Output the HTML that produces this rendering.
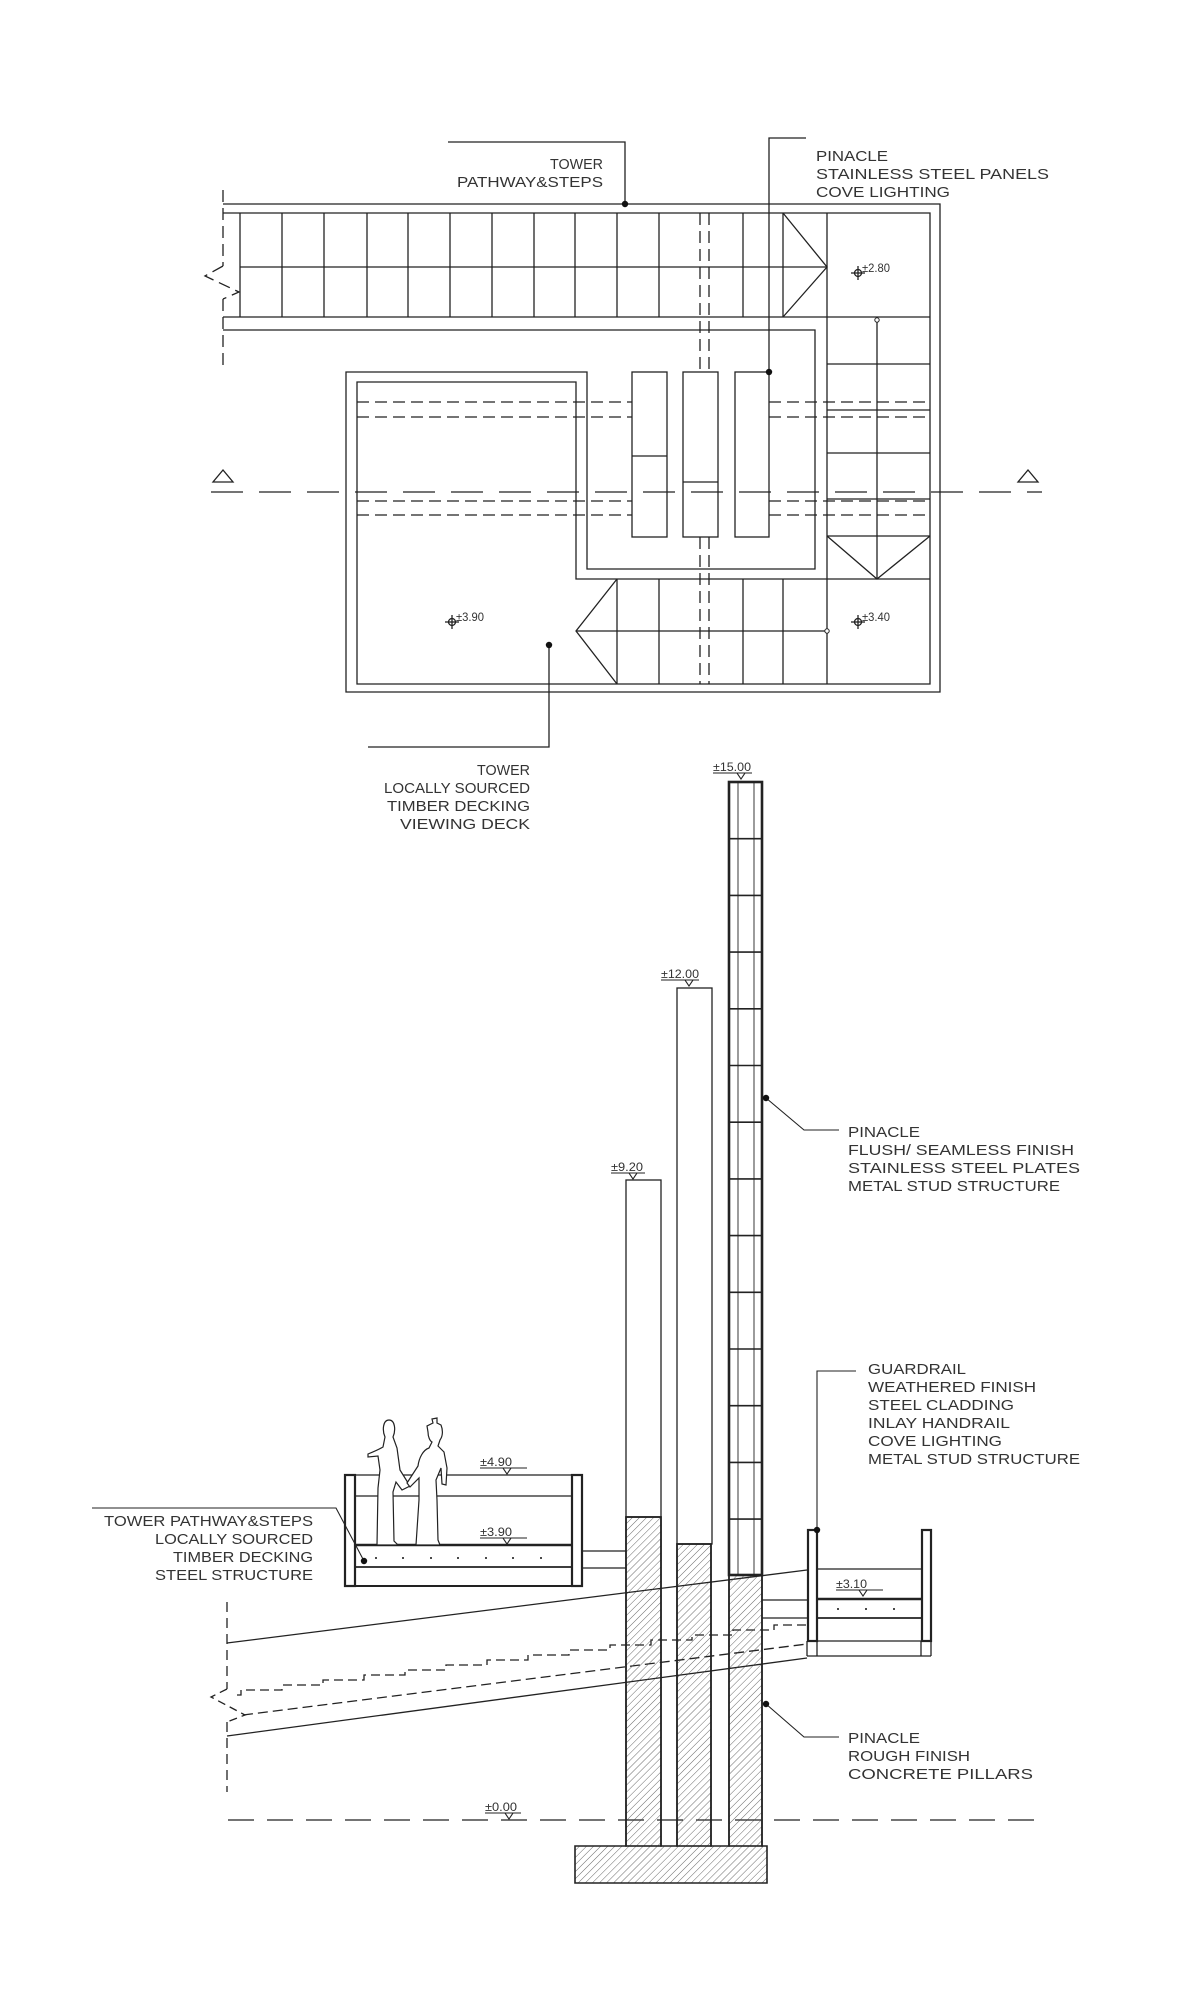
<!DOCTYPE html>
<html><head><meta charset="utf-8"><style>
html,body{margin:0;padding:0;background:#fff;}
svg{display:block;}
text{font-family:"Liberation Sans",sans-serif;fill:#333;font-size:15px;}
.s{font-size:12px;}
</style></head><body>
<svg width="1204" height="2000" viewBox="0 0 1204 2000" xmlns="http://www.w3.org/2000/svg">
<defs>
<pattern id="h" patternUnits="userSpaceOnUse" width="5" height="5" patternTransform="rotate(45)">
<line x1="0" y1="0" x2="0" y2="5" stroke="#444" stroke-width="0.8"/>
</pattern>
</defs>
<g stroke="#222" stroke-width="1.3" fill="none">
<polyline points="223,204 940,204 940,692 346,692 346,372 587,372 587,569 815,569 815,330 223,330"/>
<polyline points="223,213 930,213 930,684 357,684 357,382 576,382 576,579 930,579"/>
<line x1="223" y1="317" x2="930" y2="317"/>
<line x1="240" y1="267" x2="827" y2="267"/>
<line x1="827" y1="213" x2="827" y2="684"/>
<g>
<line x1="240" y1="213" x2="240" y2="317"/><line x1="282" y1="213" x2="282" y2="317"/>
<line x1="324" y1="213" x2="324" y2="317"/><line x1="367" y1="213" x2="367" y2="317"/>
<line x1="408" y1="213" x2="408" y2="317"/><line x1="450" y1="213" x2="450" y2="317"/>
<line x1="492" y1="213" x2="492" y2="317"/><line x1="534" y1="213" x2="534" y2="317"/>
<line x1="575" y1="213" x2="575" y2="317"/><line x1="617" y1="213" x2="617" y2="317"/>
<line x1="659" y1="213" x2="659" y2="317"/><line x1="743" y1="213" x2="743" y2="317"/>
<line x1="783" y1="213" x2="783" y2="317"/>
</g>
<polyline points="783,213 827,267 783,317"/>
<line x1="827" y1="364" x2="930" y2="364"/><line x1="827" y1="410" x2="930" y2="410"/>
<line x1="827" y1="453" x2="930" y2="453"/><line x1="827" y1="499" x2="930" y2="499"/>
<line x1="827" y1="536" x2="930" y2="536"/>
<line x1="877" y1="320" x2="877" y2="579"/>
<polyline points="827,536 877,579 930,536"/>
<line x1="617" y1="579" x2="617" y2="684"/><line x1="659" y1="579" x2="659" y2="684"/>
<line x1="743" y1="579" x2="743" y2="684"/><line x1="783" y1="579" x2="783" y2="684"/>
<polyline points="617,579 576,631 617,684"/>
<line x1="576" y1="631" x2="827" y2="631"/>
<rect x="632" y="372" width="35" height="165" fill="#fff"/>
<rect x="683" y="372" width="35" height="165" fill="#fff"/>
<rect x="735" y="372" width="34" height="165" fill="#fff"/>
<line x1="632" y1="456" x2="667" y2="456"/><line x1="683" y1="482" x2="718" y2="482"/>
<g stroke-dasharray="12,6">
<line x1="700" y1="213" x2="700" y2="372"/><line x1="709" y1="213" x2="709" y2="372"/>
<line x1="700" y1="537" x2="700" y2="684"/><line x1="709" y1="537" x2="709" y2="684"/>
<line x1="357" y1="402" x2="632" y2="402"/><line x1="769" y1="402" x2="930" y2="402"/>
<line x1="357" y1="417" x2="632" y2="417"/><line x1="769" y1="417" x2="930" y2="417"/>
<line x1="357" y1="501" x2="632" y2="501"/><line x1="769" y1="501" x2="930" y2="501"/>
<line x1="357" y1="515" x2="632" y2="515"/><line x1="769" y1="515" x2="930" y2="515"/>
<line x1="223" y1="190" x2="223" y2="266"/><line x1="223" y1="299" x2="223" y2="370"/>
<polyline points="223,266 205,276 239,292 223,299"/>
</g>
<line x1="211" y1="492" x2="1042" y2="492" stroke-dasharray="32,16"/>
<polygon points="213,482 233,482 223,470"/>
<polygon points="1018,482 1038,482 1028,470"/>
<polyline points="448,142 625,142 625,204"/>
<polyline points="806,138 769,138 769,372"/>
<polyline points="549,645 549,747 368,747"/>
<circle cx="858" cy="273" r="3.5"/><line x1="858" y1="266" x2="858" y2="280"/><line x1="851" y1="273" x2="865" y2="273"/>
<circle cx="858" cy="622" r="3.5"/><line x1="858" y1="615" x2="858" y2="629"/><line x1="851" y1="622" x2="865" y2="622"/>
<circle cx="452" cy="622" r="3.5"/><line x1="452" y1="615" x2="452" y2="629"/><line x1="445" y1="622" x2="459" y2="622"/>
</g>
<g fill="#111">
<circle cx="625" cy="204" r="3.2"/><circle cx="769" cy="372" r="3.2"/><circle cx="549" cy="645" r="3.2"/>
</g>
<g fill="#fff" stroke="#222" stroke-width="1"><circle cx="877" cy="320" r="2.2"/><circle cx="827" cy="631" r="2.2"/></g>

<text x="603" y="169" text-anchor="end" textLength="53" lengthAdjust="spacingAndGlyphs">TOWER</text>
<text x="603" y="187" text-anchor="end" textLength="146" lengthAdjust="spacingAndGlyphs">PATHWAY&amp;STEPS</text>
<text x="816" y="161" textLength="72" lengthAdjust="spacingAndGlyphs">PINACLE</text>
<text x="816" y="179" textLength="233" lengthAdjust="spacingAndGlyphs">STAINLESS STEEL PANELS</text>
<text x="816" y="197" textLength="134" lengthAdjust="spacingAndGlyphs">COVE LIGHTING</text>
<text x="530" y="775" text-anchor="end" textLength="53" lengthAdjust="spacingAndGlyphs">TOWER</text>
<text x="530" y="793" text-anchor="end" textLength="146" lengthAdjust="spacingAndGlyphs">LOCALLY SOURCED</text>
<text x="530" y="811" text-anchor="end" textLength="143" lengthAdjust="spacingAndGlyphs">TIMBER DECKING</text>
<text x="530" y="829" text-anchor="end" textLength="130" lengthAdjust="spacingAndGlyphs">VIEWING DECK</text>
<text class="s" x="862" y="272" textLength="28" lengthAdjust="spacingAndGlyphs">±2.80</text>
<text class="s" x="862" y="621" textLength="28" lengthAdjust="spacingAndGlyphs">±3.40</text>
<text class="s" x="456" y="621" textLength="28" lengthAdjust="spacingAndGlyphs">±3.90</text>

<g stroke="#222" stroke-width="1.3" fill="none">
<line x1="227" y1="1602" x2="227" y2="1689" stroke-dasharray="10,6"/>
<line x1="227" y1="1722" x2="227" y2="1792" stroke-dasharray="10,6"/>
<polyline points="227,1689 211,1697 245,1715 227,1722" stroke-dasharray="8,5"/>
<line x1="227" y1="1643" x2="807" y2="1570"/>
<line x1="227" y1="1736" x2="807" y2="1658"/>
<line x1="243" y1="1715" x2="807" y2="1644" stroke-dasharray="10,5"/>
<polyline stroke-dasharray="9,5" points="237,1695 241,1695 241,1690 282,1690 282,1685 323,1685 323,1680 364,1680 364,1675 405,1675 405,1670 446,1670 446,1665 487,1665 487,1660 528,1660 528,1655 569,1655 569,1650 610,1650 610,1645 651,1645 651,1640 692,1640 692,1635 733,1635 733,1630 774,1630 774,1625 807,1625"/>
<line x1="228" y1="1820" x2="1035" y2="1820" stroke-dasharray="26,13"/>
<line x1="355" y1="1475" x2="571" y2="1475"/>
<line x1="355" y1="1496" x2="571" y2="1496"/>
<line x1="355" y1="1545" x2="571" y2="1545" stroke-width="2.4"/>
<line x1="355" y1="1567" x2="571" y2="1567" stroke-width="1.8"/>
<line x1="344" y1="1586" x2="582" y2="1586" stroke-width="2"/>
<line x1="582" y1="1551" x2="626" y2="1551"/>
<line x1="582" y1="1568" x2="626" y2="1568"/>
<rect x="345" y="1475" width="10" height="111" stroke-width="2.2"/>
<rect x="572" y="1475" width="10" height="111" stroke-width="2.2"/>
<line x1="817" y1="1569" x2="921" y2="1569"/>
<line x1="817" y1="1599" x2="921" y2="1599" stroke-width="2.4"/>
<line x1="817" y1="1618" x2="921" y2="1618" stroke-width="1.8"/>
<line x1="807" y1="1641" x2="931" y2="1641"/>
<line x1="807" y1="1656" x2="931" y2="1656"/>
<line x1="762" y1="1600" x2="807" y2="1600"/>
<line x1="762" y1="1618" x2="807" y2="1618"/>
<line x1="807" y1="1641" x2="807" y2="1656"/><line x1="817" y1="1641" x2="817" y2="1656"/>
<line x1="921" y1="1641" x2="921" y2="1656"/><line x1="931" y1="1641" x2="931" y2="1656"/>
<rect x="808" y="1530" width="9" height="111" stroke-width="2.2"/>
<rect x="922" y="1530" width="9" height="111" stroke-width="2.2"/>
</g>
<g stroke="#222" stroke-width="1.3">
<rect x="626" y="1180" width="35" height="337" fill="#fff"/>
<rect x="677" y="988" width="35" height="556" fill="#fff"/>
<path d="M575,1846 L626,1846 L626,1517 L661,1517 L661,1846 L677,1846 L677,1544 L711,1544 L711,1846 L729,1846 L729,1575 L762,1575 L762,1846 L767,1846 L767,1883 L575,1883 Z" fill="url(#h)" stroke-width="1.6"/>
<rect x="626" y="1517" width="35" height="329" fill="none" stroke-width="1.6"/>
<rect x="677" y="1544" width="34" height="302" fill="none" stroke-width="1.6"/>
<rect x="729" y="1575" width="33" height="271" fill="none" stroke-width="1.6"/>
<rect x="729" y="782" width="33" height="793" fill="#fff" stroke-width="2.6"/>
<line x1="738" y1="782" x2="738" y2="1575" stroke-width="0.9"/>
<line x1="754" y1="782" x2="754" y2="1575" stroke-width="0.9"/>
</g>
<g stroke="#222" stroke-width="1.6">
<line x1="729" y1="838.7" x2="762" y2="838.7"/><line x1="729" y1="895.4" x2="762" y2="895.4"/>
<line x1="729" y1="952.1" x2="762" y2="952.1"/><line x1="729" y1="1008.8" x2="762" y2="1008.8"/>
<line x1="729" y1="1065.5" x2="762" y2="1065.5"/><line x1="729" y1="1122.2" x2="762" y2="1122.2"/>
<line x1="729" y1="1178.9" x2="762" y2="1178.9"/><line x1="729" y1="1235.6" x2="762" y2="1235.6"/>
<line x1="729" y1="1292.3" x2="762" y2="1292.3"/><line x1="729" y1="1349" x2="762" y2="1349"/>
<line x1="729" y1="1405.7" x2="762" y2="1405.7"/><line x1="729" y1="1462.4" x2="762" y2="1462.4"/>
<line x1="729" y1="1519.1" x2="762" y2="1519.1"/>
</g>
<g stroke="#222" stroke-width="1.2" fill="#fff">
<path d="M389,1420 C383,1420 382,1430 385,1437 L383,1447 C378,1450 373,1452 368,1454 L368,1457 L378,1456 L380,1470 L378,1488 L377,1545 L398,1545 L394,1541 L393,1492 L396,1482 L402,1490 L410,1486 L400,1470 L397,1448 L393,1437 C396,1430 395,1420 389,1420 Z"/>
<path d="M433,1423 L427,1426 L428,1432 C428,1437 430,1441 432,1442 L429,1448 C423,1450 419,1458 418,1466 L407,1483 L410,1487 L419,1478 L419,1500 L416,1545 L440,1545 L438,1540 L437,1500 L436,1480 L441,1468 L442,1484 L446,1485 L447,1468 L444,1452 L438,1446 L440,1440 C443,1436 443,1430 441,1425 L437,1423 L437,1418 L432,1419 Z"/>
</g>
<g stroke="#222" stroke-width="1.1" fill="none">
<polyline points="92,1508 336,1508 364,1561"/>
<polyline points="856,1371 817,1371 817,1530"/>
<polyline points="766,1098 804,1130 839,1130"/>
<polyline points="766,1704 804,1737 839,1737"/>
<line x1="611" y1="1173" x2="645" y2="1173"/><polygon points="629,1173 637,1173 633,1179"/>
<line x1="661" y1="980" x2="699" y2="980"/><polygon points="685,980 693,980 689,986"/>
<line x1="713" y1="773" x2="752" y2="773"/><polygon points="737,773 745,773 741,779"/>
<line x1="480" y1="1468" x2="527" y2="1468"/><polygon points="503,1468 511,1468 507,1474"/>
<line x1="480" y1="1538" x2="527" y2="1538"/><polygon points="503,1538 511,1538 507,1544"/>
<line x1="836" y1="1590" x2="883" y2="1590"/><polygon points="859,1590 867,1590 863,1596"/>
<line x1="485" y1="1813" x2="521" y2="1813"/><polygon points="505,1813 513,1813 509,1819"/>
</g>
<g fill="#111">
<circle cx="364" cy="1561" r="3.2"/><circle cx="817" cy="1530" r="3.2"/>
<circle cx="766" cy="1098" r="3.2"/><circle cx="766" cy="1704" r="3.2"/>
<circle cx="376" cy="1558" r="1"/><circle cx="403" cy="1558" r="1"/><circle cx="431" cy="1558" r="1"/>
<circle cx="458" cy="1558" r="1"/><circle cx="486" cy="1558" r="1"/><circle cx="513" cy="1558" r="1"/><circle cx="541" cy="1558" r="1"/>
<circle cx="838" cy="1609" r="1"/><circle cx="866" cy="1609" r="1"/><circle cx="894" cy="1609" r="1"/>
</g>
<text class="s" x="611" y="1171" textLength="32" lengthAdjust="spacingAndGlyphs">±9.20</text>
<text class="s" x="661" y="978" textLength="38" lengthAdjust="spacingAndGlyphs">±12.00</text>
<text class="s" x="713" y="771" textLength="38" lengthAdjust="spacingAndGlyphs">±15.00</text>
<text class="s" x="480" y="1466" textLength="32" lengthAdjust="spacingAndGlyphs">±4.90</text>
<text class="s" x="480" y="1536" textLength="32" lengthAdjust="spacingAndGlyphs">±3.90</text>
<text class="s" x="836" y="1588" textLength="31" lengthAdjust="spacingAndGlyphs">±3.10</text>
<text class="s" x="485" y="1811" textLength="32" lengthAdjust="spacingAndGlyphs">±0.00</text>

<text x="848" y="1137" textLength="72" lengthAdjust="spacingAndGlyphs">PINACLE</text>
<text x="848" y="1155" textLength="226" lengthAdjust="spacingAndGlyphs">FLUSH/ SEAMLESS FINISH</text>
<text x="848" y="1173" textLength="232" lengthAdjust="spacingAndGlyphs">STAINLESS STEEL PLATES</text>
<text x="848" y="1191" textLength="212" lengthAdjust="spacingAndGlyphs">METAL STUD STRUCTURE</text>

<text x="868" y="1374" textLength="98" lengthAdjust="spacingAndGlyphs">GUARDRAIL</text>
<text x="868" y="1392" textLength="168" lengthAdjust="spacingAndGlyphs">WEATHERED FINISH</text>
<text x="868" y="1410" textLength="146" lengthAdjust="spacingAndGlyphs">STEEL CLADDING</text>
<text x="868" y="1428" textLength="142" lengthAdjust="spacingAndGlyphs">INLAY HANDRAIL</text>
<text x="868" y="1446" textLength="134" lengthAdjust="spacingAndGlyphs">COVE LIGHTING</text>
<text x="868" y="1464" textLength="212" lengthAdjust="spacingAndGlyphs">METAL STUD STRUCTURE</text>

<text x="848" y="1743" textLength="72" lengthAdjust="spacingAndGlyphs">PINACLE</text>
<text x="848" y="1761" textLength="122" lengthAdjust="spacingAndGlyphs">ROUGH FINISH</text>
<text x="848" y="1779" textLength="185" lengthAdjust="spacingAndGlyphs">CONCRETE PILLARS</text>

<text x="313" y="1526" text-anchor="end" textLength="209" lengthAdjust="spacingAndGlyphs">TOWER PATHWAY&amp;STEPS</text>
<text x="313" y="1544" text-anchor="end" textLength="158" lengthAdjust="spacingAndGlyphs">LOCALLY SOURCED</text>
<text x="313" y="1562" text-anchor="end" textLength="140" lengthAdjust="spacingAndGlyphs">TIMBER DECKING</text>
<text x="313" y="1580" text-anchor="end" textLength="158" lengthAdjust="spacingAndGlyphs">STEEL STRUCTURE</text>
</svg>
</body></html>
